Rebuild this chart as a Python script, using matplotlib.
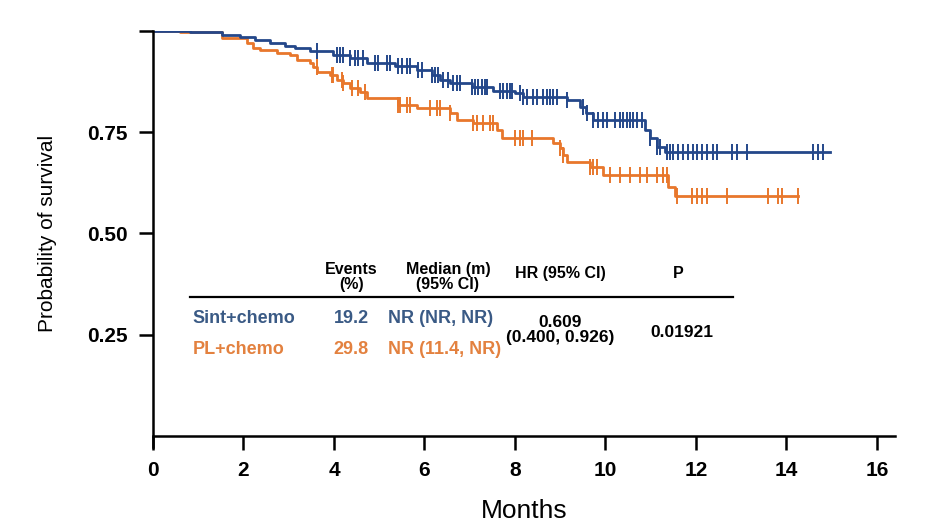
import numpy as np
import matplotlib
matplotlib.use("Agg")
import matplotlib.pyplot as plt

plt.rcParams['font.family'] = ['Liberation Sans', 'DejaVu Sans']

# Sint+chemo: step times (months) and survival after each step
sint_t = [0, 0.82, 1.52, 1.92, 2.25, 2.58, 2.92, 3.14, 3.47, 3.98, 4.36, 4.73, 5.35,
          5.83, 6.17, 6.34, 6.56, 7.05, 7.51, 8.00, 8.18, 9.15, 9.44, 9.57, 9.72,
          10.87, 10.98, 11.14, 11.31]
sint_s = [1.0, 0.9975, 0.990, 0.985, 0.978, 0.970, 0.963, 0.958, 0.950, 0.941, 0.933,
          0.921, 0.913, 0.903, 0.891, 0.879, 0.871, 0.861, 0.851, 0.847, 0.837, 0.829,
          0.812, 0.797, 0.780, 0.755, 0.735, 0.713, 0.700]
sint_end = 14.96
sint_cens = [3.62, 4.07, 4.13, 4.20, 4.36, 4.46, 4.53, 4.64, 4.91, 4.97, 5.17, 5.24,
             5.41, 5.50, 5.61, 5.68, 5.86, 5.95, 6.17, 6.23, 6.30, 6.41, 6.52, 6.63,
             6.72, 6.78, 7.05, 7.12, 7.18, 7.27, 7.34, 7.38, 7.67, 7.73, 7.82, 7.89,
             7.93, 8.11, 8.18, 8.27, 8.40, 8.49, 8.62, 8.71, 8.77, 8.84, 8.93, 9.15,
             9.50, 9.59, 9.72, 9.83, 9.94, 10.03, 10.21, 10.32, 10.39, 10.48, 10.54,
             10.61, 10.70, 10.81, 10.98, 11.14, 11.20, 11.36, 11.43, 11.49, 11.60,
             11.71, 11.82, 11.93, 12.02, 12.13, 12.24, 12.38, 12.46, 12.80, 12.91,
             13.13, 14.59, 14.70, 14.81]

# PL+chemo
pl_t = [0, 0.60, 1.52, 2.08, 2.21, 2.36, 2.74, 3.03, 3.18, 3.47, 3.54, 3.63, 3.91,
        4.07, 4.20, 4.36, 4.58, 4.73, 5.42, 5.83, 6.56, 6.72, 7.07, 7.60, 7.71,
        8.84, 8.99, 9.06, 9.15, 9.66, 9.94, 11.38, 11.54]
pl_s = [1.0, 0.9975, 0.983, 0.970, 0.958, 0.953, 0.946, 0.941, 0.928, 0.921, 0.911,
        0.899, 0.891, 0.879, 0.871, 0.859, 0.849, 0.834, 0.817, 0.809, 0.797, 0.780,
        0.772, 0.755, 0.735, 0.723, 0.710, 0.693, 0.676, 0.663, 0.644, 0.614, 0.592]
pl_end = 14.25
pl_cens = [3.62, 3.96, 3.98, 4.18, 4.20, 4.40, 4.53, 4.69, 5.42, 5.46, 5.61, 5.68,
           6.12, 6.28, 6.34, 6.56, 7.07, 7.16, 7.29, 7.45, 7.51, 8.00, 8.11, 8.18,
           8.38, 8.99, 9.06, 9.66, 9.72, 9.81, 10.10, 10.32, 10.54, 10.76, 10.92,
           11.14, 11.27, 11.36, 11.58, 11.91, 12.02, 12.13, 12.24, 12.69, 13.59,
           13.81, 13.90, 14.25]

x_ticks = [0, 2, 4, 6, 8, 10, 12, 14, 16]
y_ticks = [0.25, 0.50, 0.75, 1.0]
y_labels = ['0.25', '0.50', '0.75', '']

col_headers = ['Events\n(%)', 'Median (m)\n(95% CI)', 'HR (95% CI)', 'P']
arms = ['Sint+chemo', 'PL+chemo']
events = ['19.2', '29.8']
medians = ['NR (NR, NR)', 'NR (11.4, NR)']
hr_text = '0.609\n(0.400, 0.926)'
p_text = '0.01921'

BLUE = '#24478A'
ORANGE = '#E8772C'
BLUE_TXT = '#3A5A85'
ORANGE_TXT = '#E3813F'


def km(ax, t, s, end, cens, color):
    xs = list(t) + [end]
    ys = list(s) + [s[-1]]
    ax.step(xs, ys, where='post', color=color, lw=2.0)
    idx = np.searchsorted(t, cens, side='right') - 1
    cy = np.array(s)[idx]
    ax.plot(cens, cy, ls='none', marker='|', ms=12, mew=1.4, color=color)


fig = plt.figure(figsize=(9.48, 5.25), dpi=100)
ax = fig.add_axes([0.1614, 0.1695, 0.7827, 0.7715])

km(ax, pl_t, pl_s, pl_end, pl_cens, ORANGE)
km(ax, sint_t, sint_s, sint_end, sint_cens, BLUE)

ax.set_xlim(0, 16.4)
ax.set_ylim(0, 1.0)
ax.spines['top'].set_visible(False)
ax.spines['right'].set_visible(False)
ax.spines['left'].set_bounds(-0.027, 1.0)
ax.spines['left'].set_linewidth(1.8)
ax.spines['bottom'].set_linewidth(1.8)
ax.set_xticks(x_ticks)
ax.set_xticklabels([str(v) for v in x_ticks], fontsize=15, fontweight='bold')
ax.set_yticks(y_ticks)
ax.set_yticklabels(y_labels, fontsize=15, fontweight='bold')
ax.tick_params(axis='both', length=10, width=1.8, direction='out')
ax.tick_params(axis='x', pad=8)
ax.tick_params(axis='y', pad=8)
ax.set_xlabel('Months', fontsize=19, labelpad=14)
ax.set_ylabel('Probability of survival', fontsize=15, labelpad=22)

# table inside the plot, in data coordinates
hdr_x = [4.38, 6.52, 9.0, 11.6]
ax.plot([0.82, 12.82], [0.342, 0.342], color='black', lw=1.6)
for j in range(2):
    ax.text(hdr_x[j], 0.392, col_headers[j], ha='center', va='center', fontsize=11.5,
            fontweight='bold', linespacing=1.0)
for j in range(2, 4):
    ax.text(hdr_x[j], 0.400, col_headers[j], ha='center', va='center', fontsize=11.5,
            fontweight='bold')

row_y = [0.290, 0.214]
for i, c in enumerate([BLUE_TXT, ORANGE_TXT]):
    ax.text(0.88, row_y[i], arms[i], ha='left', va='center', fontsize=13,
            fontweight='bold', color=c)
    ax.text(hdr_x[0], row_y[i], events[i], ha='center', va='center', fontsize=13,
            fontweight='bold', color=c)
    ax.text(5.19, row_y[i], medians[i], ha='left', va='center', fontsize=13,
            fontweight='bold', color=c)
ax.text(hdr_x[2], 0.262, hr_text, ha='center', va='center', fontsize=12.5,
        fontweight='bold', linespacing=1.0)
ax.text(11.7, 0.256, p_text, ha='center', va='center', fontsize=12.5,
        fontweight='bold')

fig.savefig('out.png', dpi=100)
